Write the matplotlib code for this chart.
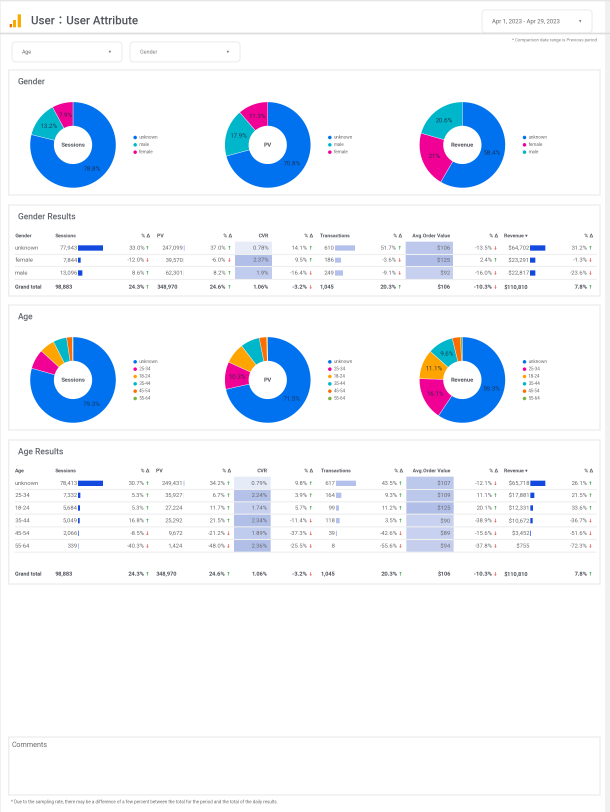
#!/usr/bin/env python
"""GA4 style report page: user attribute donuts and result tables."""
import numpy as np
import matplotlib
matplotlib.use("Agg")
import matplotlib.pyplot as plt
from matplotlib.patches import FancyBboxPatch, Rectangle

plt.rcParams["font.family"] = ["Roboto", "Noto Sans CJK JP", "DejaVu Sans"]

W, H = 610, 812
SS = 3  # draw big, then average down: text this small falls apart at 100 dpi

# colours per category
C = {"unknown": "#0072f0", "male": "#00b6cb", "female": "#f10096",
     "25-34": "#f10096", "18-24": "#ffa400", "35-44": "#00b6cb",
     "45-54": "#ff6d00", "55-64": "#7cb342"}

# ===== donut data =====
gender_sessions_cat = ["unknown", "male", "female"]
gender_sessions = [78.8, 13.2, 7.9]
gender_sessions_lbl = ["78.8%", "13.2%", "7.9%"]
gender_pv_cat = ["unknown", "male", "female"]
gender_pv = [70.8, 17.9, 11.3]
gender_pv_lbl = ["70.8%", "17.9%", "11.3%"]
gender_rev_cat = ["unknown", "female", "male"]
gender_rev = [58.4, 21.0, 20.6]
gender_rev_lbl = ["58.4%", "21%", "20.6%"]

age_cat = ["unknown", "25-34", "18-24", "35-44", "45-54", "55-64"]
age_sessions = [79.3, 7.4, 5.7, 5.1, 2.1, 0.3]
age_sessions_lbl = ["79.3%", "", "", "", "", ""]
age_pv = [71.5, 10.3, 7.8, 7.2, 2.8, 0.4]
age_pv_lbl = ["71.5%", "10.3%", "", "", "", ""]
age_rev = [59.3, 16.1, 11.1, 9.6, 3.1, 0.7]
age_rev_lbl = ["59.3%", "16.1%", "11.1%", "9.6%", "", ""]

# ===== table data =====
headers = ["Sessions", "% Δ", "PV", "% Δ", "CVR", "% Δ", "Transactions", "% Δ",
           "Avg.Order Value", "% Δ", "Revenue", "% Δ"]

g_rows = ["unknown", "female", "male"]
g_sessions = [77943, 7844, 13096]
g_sessions_d = [33.0, -12.0, 8.6]
g_pv = [247099, 39570, 62301]
g_pv_d = [37.0, -6.0, 8.2]
g_cvr = [0.78, 2.37, 1.9]
g_cvr_d = [14.1, 9.5, -16.4]
g_tr = [610, 186, 249]
g_tr_d = [51.7, -3.6, -9.1]
g_aov = [106, 125, 92]
g_aov_d = [-13.5, 2.4, -16.0]
g_rev = [64702, 23291, 22817]
g_rev_d = [31.2, -1.3, -23.6]

a_rows = ["unknown", "25-34", "18-24", "35-44", "45-54", "55-64"]
a_sessions = [78413, 7332, 5684, 5049, 2066, 339]
a_sessions_d = [30.7, 5.3, 5.3, 16.8, -8.5, -40.3]
a_pv = [249431, 35927, 27224, 25292, 9672, 1424]
a_pv_d = [34.2, 6.7, 11.7, 21.5, -21.2, -48.0]
a_cvr = [0.79, 2.24, 1.74, 2.34, 1.89, 2.36]
a_cvr_d = [9.8, 3.9, 5.7, -11.4, -37.3, -25.5]
a_tr = [617, 164, 99, 118, 39, 8]
a_tr_d = [43.5, 9.3, 11.2, 3.5, -42.6, -55.6]
a_aov = [107, 109, 125, 90, 89, 94]
a_aov_d = [-12.1, 11.1, 20.1, -38.9, -15.6, -37.8]
a_rev = [65718, 17881, 12331, 10672, 3452, 755]
a_rev_d = [26.1, 21.5, 33.6, -36.7, -51.6, -72.3]

total_vals = ["98,883", "348,970", "1.06%", "1,045", "$106", "$110,810"]
total_d = [24.3, 24.6, -3.2, 20.3, -10.3, 7.8]

GREY = "#62666d"
LINE = "#eeeeee"
TXT = "#6a6a6e"

# the +0.1 keeps the pixel count from rounding down at 300 dpi
fig = plt.figure(figsize=((W + 0.1) / 100, (H + 0.1) / 100), dpi=100, facecolor="white")
ax = fig.add_axes([0, 0, 1, 1])
ax.set_xlim(0, W); ax.set_ylim(H, 0); ax.axis("off")


def box(x0, y0, x1, y1, ec=LINE, lw=1.0, fc="white"):
    ax.add_patch(Rectangle((x0, y0), x1 - x0, y1 - y0, fc=fc, ec=ec, lw=lw))


def dropdown(x0, y0, x1, y1, label, col, size=3.9):
    ax.add_patch(FancyBboxPatch((x0 + 4, y0 + 4), x1 - x0 - 8, y1 - y0 - 8,
                                boxstyle="round,pad=4", fc="white", ec="#eeeeee", lw=0.8))
    ax.text(x0 + 10, (y0 + y1) / 2, label, fontsize=size, color=col, va="center")
    ax.text(x1 - 12, (y0 + y1) / 2, "▾", fontsize=3.5, color="#777777", va="center", ha="center")


# ----- page furniture -----
ax.add_patch(Rectangle((605, 0), 5, H, fc="#f1f1f1", ec="none"))
ax.add_patch(Rectangle((0, 0), 1, H, fc="#f1f1f1", ec="none"))
ax.plot([0, W], [0.5, 0.5], c="#e6e6e6", lw=1.2)
ax.plot([0, W], [33.5, 33.5], c="#dddddd", lw=1.2)
ax.add_patch(Rectangle((9.5, 24), 2.5, 3.5, fc="#e8710a", ec="none"))
ax.add_patch(Rectangle((13, 20), 3, 7.5, fc="#f9ab00", ec="none"))
ax.add_patch(Rectangle((17.5, 14.5), 3.5, 13, fc="#f9ab00", ec="none"))
ax.text(31, 21, "User：User Attribute", fontsize=8.3, color="#50535b", va="center", weight="medium")
dropdown(482, 10, 592, 33, "Apr 1, 2023 - Apr 29, 2023", TXT, size=4.25)
dropdown(12, 42, 122, 62, "Age", TXT)
dropdown(130, 42, 240, 62, "Gender", "#808080")
ax.text(597, 40, "* Comparison date range is Previous period", fontsize=3.2, color="#808080",
        ha="right", va="center")

# ----- section panels -----
for y0, y1, title in [(70, 195, "Gender"), (205, 296, "Gender Results"),
                      (305, 430, "Age"), (440, 584, "Age Results")]:
    box(8.5, y0, 600, y1)
    ax.text(18, y0 + 12, title, fontsize=6.1, color=GREY, va="center", weight="medium")


def donut(cx, cy, vals, cats, lbls, centre, legx, legy):
    r = 43
    a = fig.add_axes([(cx - r) / W, 1 - (cy + r) / H, 2 * r / W, 2 * r / H])
    wedges, _ = a.pie(vals, colors=[C[c] for c in cats], startangle=90, counterclock=False,
                      radius=1.0, wedgeprops=dict(width=0.56, lw=0.3, ec="white"))
    a.set_xlim(-1, 1); a.set_ylim(-1, 1)
    for w, t in zip(wedges, lbls):
        if t:
            ang = np.deg2rad((w.theta1 + w.theta2) / 2)
            a.text(0.71 * np.cos(ang), 0.71 * np.sin(ang), t, ha="center", va="center",
                   fontsize=4.5, color="#1e2a45", alpha=0.85)
    a.text(0, 0, centre, ha="center", va="center", fontsize=4.2, color="#555860", weight="bold")
    for i, c in enumerate(cats):
        y = legy + i * 7.35
        ax.scatter([legx], [y], s=6.5, color=C[c], lw=0)
        ax.text(legx + 4, y, c, fontsize=3.3, color=TXT, va="center")


donut(73, 145, gender_sessions, gender_sessions_cat, gender_sessions_lbl, "Sessions", 135, 137.3)
donut(267.7, 145, gender_pv, gender_pv_cat, gender_pv_lbl, "PV", 329.7, 137.3)
donut(462.3, 145, gender_rev, gender_rev_cat, gender_rev_lbl, "Revenue", 524.3, 137.3)
donut(73, 380, age_sessions, age_cat, age_sessions_lbl, "Sessions", 135, 361.7)
donut(267.7, 380, age_pv, age_cat, age_pv_lbl, "PV", 329.7, 361.7)
donut(462.3, 380, age_rev, age_cat, age_rev_lbl, "Revenue", 524.3, 361.7)


def heat(v, vmax):
    # white -> report blue by share of column max
    f = v / vmax
    lo, hi = (255, 255, 255), (176, 190, 232)
    return tuple((l + (h - l) * f ** 1.1) / 255 for l, h in zip(lo, hi))


def delta(xv, xa, y, d, col=TXT, weight="normal"):
    ax.text(xv, y, f"{d:.1f}%", ha="right", va="center", fontsize=4.2, color=col, weight=weight)
    ax.text(xa, y, "↑" if d > 0 else "↓", ha="center", va="center", fontsize=3.6,
            color="#2e9e47" if d > 0 else "#e8403a", family="DejaVu Sans", weight="bold")


def table(dim, rows, ys, seps, ytop, yhead, ytot, cols, data):
    HD = dict(fontsize=3.7, color="#55585f", weight="bold", va="center")
    ax.text(15, yhead, dim, **HD)
    ax.text(15, ytot, "Grand total", fontsize=3.8, color="#4f5259", weight="bold", va="center")
    for y in seps:
        ax.plot([15, 596], [y, y], c="#efefef", lw=0.8)
    # header row
    ax.text(cols["s_h"], yhead, headers[0], **HD)
    ax.text(cols["pv_h"], yhead, headers[2], **HD)
    ax.text(cols["cvr_v"], yhead, headers[4], ha="right", **HD)
    ax.text(cols["tr_h"], yhead, headers[6], **HD)
    ax.text(cols["aov_v"], yhead, headers[8], ha="right", **HD)
    ax.text(cols["rev_h"], yhead, headers[10] + " ▾", **HD)
    for k, hi in zip(["s", "pv", "cvr", "tr", "aov", "rev"], [1, 3, 5, 7, 9, 11]):
        ax.text(cols[k + "_dh"], yhead, headers[hi], ha="right", **HD)

    s, sd, pv, pvd, cvr, cvrd, tr, trd, aov, aovd, rev, revd = data
    # heat columns
    edges = [ytop] + list(seps)
    for i in range(len(rows)):
        ax.add_patch(Rectangle((cols["cvr_x0"], edges[i]), cols["cvr_x1"] - cols["cvr_x0"],
                               edges[i + 1] - edges[i], fc=heat(cvr[i], max(cvr)), ec="none"))
        ax.add_patch(Rectangle((cols["aov_x0"], edges[i]), cols["aov_x1"] - cols["aov_x0"],
                               edges[i + 1] - edges[i], fc=heat(aov[i], max(aov)), ec="none"))
    # in-cell bars
    ax.barh(ys, [v / max(s) * 25 for v in s], left=cols["s_v"] + 0.8, height=5.2, color="#1449e0")
    ax.barh(ys, [v / max(pv) * 1.2 for v in pv], left=cols["pv_v"] + 0.8, height=5.2, color="#c9d3f2")
    ax.barh(ys, [v / max(tr) * 20 for v in tr], left=cols["tr_v"] + 0.8, height=5.2, color="#b4c2ee")
    ax.barh(ys, [v / max(rev) * 15.3 for v in rev], left=cols["rev_v"] + 0.8, height=5.2, color="#1449e0")

    for i, (name, y) in enumerate(zip(rows, ys)):
        TX = dict(fontsize=4.2, color=TXT, va="center")
        ax.text(15, y, name, **TX)
        ax.text(cols["s_v"], y, f"{s[i]:,}", ha="right", **TX)
        ax.text(cols["pv_v"], y, f"{pv[i]:,}", ha="right", **TX)
        ax.text(cols["cvr_v"], y, f"{cvr[i]:g}%", ha="right", **TX)
        ax.text(cols["tr_v"], y, f"{tr[i]:,}", ha="right", **TX)
        ax.text(cols["aov_v"], y, f"${aov[i]}", ha="right", **TX)
        ax.text(cols["rev_v"], y, f"${rev[i]:,}", ha="right", **TX)
        for k, d in zip(["s", "pv", "cvr", "tr", "aov", "rev"], [sd, pvd, cvrd, trd, aovd, revd]):
            delta(cols[k + "_d"], cols[k + "_a"], y, d[i])

    # grand total row
    TT = dict(fontsize=4.0, color="#4f5259", weight="bold", va="center")
    ax.text(cols["s_h"], ytot, total_vals[0], **TT)
    ax.text(cols["pv_h"], ytot, total_vals[1], **TT)
    ax.text(cols["cvr_v"], ytot, total_vals[2], ha="right", **TT)
    ax.text(cols["tr_h"], ytot, total_vals[3], **TT)
    ax.text(cols["aov_v"], ytot, total_vals[4], ha="right", **TT)
    ax.text(cols["rev_h"], ytot, total_vals[5], **TT)
    for k, d in zip(["s", "pv", "cvr", "tr", "aov", "rev"], total_d):
        delta(cols[k + "_d"], cols[k + "_a"], ytot, d, col="#4f5259", weight="bold")


gcols = dict(s_h=55, s_v=77.3, s_d=144.5, s_a=147, s_dh=150,
             pv_h=157, pv_v=183, pv_d=225.5, pv_a=229, pv_dh=232,
             cvr_x0=235, cvr_x1=272, cvr_v=268.5, cvr_d=307, cvr_a=310.5, cvr_dh=313,
             tr_h=320, tr_v=334, tr_d=396, tr_a=399.5, tr_dh=402,
             aov_x0=405.7, aov_x1=453, aov_v=450, aov_d=492, aov_a=495, aov_dh=498,
             rev_h=504, rev_v=529, rev_d=587, rev_a=590, rev_dh=593)
acols = dict(s_h=55, s_v=77.3, s_d=144, s_a=147, s_dh=149.5,
             pv_h=156, pv_v=182.5, pv_d=225, pv_a=228, pv_dh=231,
             cvr_x0=234, cvr_x1=270.5, cvr_v=267, cvr_d=307, cvr_a=310.5, cvr_dh=313,
             tr_h=321, tr_v=335, tr_d=397, tr_a=400, tr_dh=403,
             aov_x0=406.3, aov_x1=453.7, aov_v=450.3, aov_d=492, aov_a=495, aov_dh=498,
             rev_h=504, rev_v=529.3, rev_d=587, rev_a=590, rev_dh=593)

table("Gender", g_rows, [248, 260.3, 273], [254.3, 266.5, 279.3], 241.7, 236, 287, gcols,
      [g_sessions, g_sessions_d, g_pv, g_pv_d, g_cvr, g_cvr_d, g_tr, g_tr_d, g_aov, g_aov_d, g_rev, g_rev_d])
table("Age", a_rows, [483.3, 495.3, 508, 520.7, 533.3, 546],
      [489.3, 501.7, 514, 526.7, 539.3, 552], 476.7, 471, 574, acols,
      [a_sessions, a_sessions_d, a_pv, a_pv_d, a_cvr, a_cvr_d, a_tr, a_tr_d, a_aov, a_aov_d, a_rev, a_rev_d])

# ----- comments + footnote -----
box(8.5, 737, 600, 795)
ax.text(12, 745, "Comments", fontsize=5.2, color=TXT, va="center")
ax.text(11, 802, "* Due to the sampling rate, there may be a difference of a few percent between "
        "the total for the period and the total of the daily results.",
        fontsize=3.26, color=TXT, va="center")

fig.savefig("out.png", dpi=100 * SS)
img = plt.imread("out.png")[:H * SS, :W * SS, :3]
small = img.reshape(H, SS, W, SS, 3).mean(axis=(1, 3))
plt.imsave("out.png", small)
